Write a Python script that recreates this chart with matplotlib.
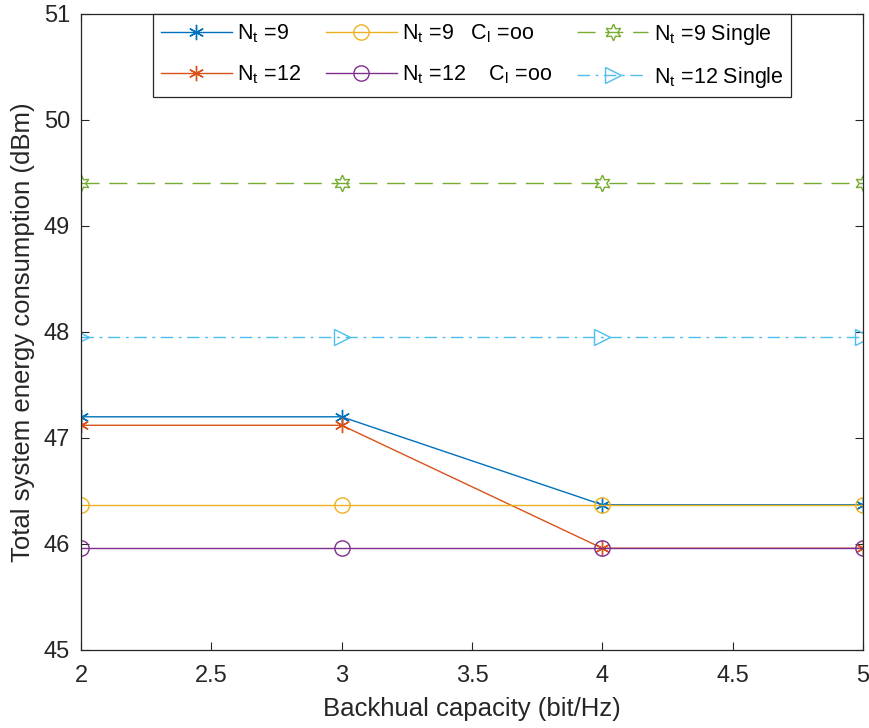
import numpy as np
import matplotlib
matplotlib.use("Agg")
import matplotlib.pyplot as plt

# =========================================================
# DATA
# =========================================================

backhaul = [2, 3, 4, 5]

nt9 = [47.20, 47.20, 46.37, 46.37]
nt12 = [47.12, 47.12, 45.96, 45.96]
nt9_inf = [46.37, 46.37, 46.37, 46.37]
nt12_inf = [45.96, 45.96, 45.96, 45.96]
nt9_single = [49.41, 49.41, 49.41, 49.41]
nt12_single = [47.95, 47.95, 47.95, 47.95]

labels = [
    "N$_t$ =9",
    "N$_t$ =12",
    "N$_t$ =9   C$_l$ =oo",
    "N$_t$ =12    C$_l$ =oo",
    "N$_t$ =9 Single",
    "N$_t$ =12 Single",
]

x_ticks = [2, 2.5, 3, 3.5, 4, 4.5, 5]
y_ticks = [45, 46, 47, 48, 49, 50, 51]

# =========================================================
# STYLE
# =========================================================

plt.rcParams['font.family'] = ['Liberation Sans', 'DejaVu Sans']
plt.rcParams['mathtext.default'] = 'regular'

BLUE = "#0072BD"
ORANGE = "#D95319"
YELLOW = "#EDB120"
PURPLE = "#7E2F8E"
GREEN = "#77AC30"
CYAN = "#4DBEEE"
AXIS_GRAY = "#262626"

asterisk = (6, 2, 0)
hexagram = (6, 1, 0)

# =========================================================
# PLOT
# =========================================================

fig = plt.figure(figsize=(8.7, 7.28), dpi=100)
ax = fig.add_axes([81 / 870, 1 - 650 / 728, 782 / 870, 636 / 728])

lw = 1.0
ax.plot(backhaul, nt9, color=BLUE, lw=lw, marker=asterisk, ms=11, mew=1.0, label=labels[0])
ax.plot(backhaul, nt12, color=ORANGE, lw=lw, marker=asterisk, ms=11, mew=1.0, label=labels[1])
ax.plot(backhaul, nt9_inf, color=YELLOW, lw=lw, marker='o', ms=11, mfc='none', mew=1.0, label=labels[2])
ax.plot(backhaul, nt12_inf, color=PURPLE, lw=lw, marker='o', ms=11, mfc='none', mew=1.0, label=labels[3])
ax.plot(backhaul, nt9_single, color=GREEN, lw=lw, ls=(0, (13, 7)), marker=hexagram, ms=12,
        mfc='none', mew=1.0, label=labels[4])
ax.plot(backhaul, nt12_single, color=CYAN, lw=lw, ls=(0, (9, 4, 2, 4)), marker='>', ms=11,
        mfc='none', mew=1.0, label=labels[5])

ax.set_xlim(2, 5)
ax.set_ylim(45, 51)
ax.set_xticks(x_ticks)
ax.set_xticklabels(["2", "2.5", "3", "3.5", "4", "4.5", "5"])
ax.set_yticks(y_ticks)

ax.tick_params(direction='in', length=6, width=0.8, colors=AXIS_GRAY,
               labelsize=17, top=True, right=True)
ax.tick_params(axis='x', pad=11)
ax.tick_params(axis='y', pad=8)
for s in ax.spines.values():
    s.set_color(AXIS_GRAY)
    s.set_linewidth(0.9)

ax.set_xlabel("Backhual capacity (bit/Hz)", fontsize=18.5, color=AXIS_GRAY, labelpad=7)
ax.set_ylabel("Total system energy consumption (dBm)", fontsize=18.5, color=AXIS_GRAY, labelpad=6)

leg = ax.legend(loc='upper center', bbox_to_anchor=(0.5, 1.0), ncol=3, fontsize=15.5,
                frameon=True, fancybox=False, framealpha=1, edgecolor=AXIS_GRAY,
                borderaxespad=0, handlelength=3.3, columnspacing=1.15,
                handletextpad=0.25, labelspacing=0.85, borderpad=0.35)
leg.get_frame().set_linewidth(0.9)

fig.savefig("out.png", dpi=100)
